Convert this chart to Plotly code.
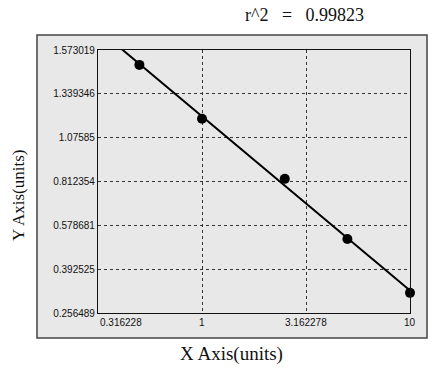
import numpy as np
import plotly.graph_objects as go

# data (y in axis-position units: tick i corresponds to y_tick_labels[i])
x_vals = [0.5, 1, 2.5, 5, 10]
y_vals = [5.66, 4.43, 3.06, 1.69, 0.46]
x_tick_vals = [0.316228, 1, 3.162278, 10]
x_tick_labels = ["0.316228", "1", "3.162278", "10"]
y_tick_vals = [0, 1, 2, 3, 4, 5, 6]
y_tick_labels = ["0.256489", "0.392525", "0.578681", "0.812354", "1.07585", "1.339346", "1.573019"]
r2_text = "r^2 &nbsp;&nbsp;= &nbsp;&nbsp;0.99823"

W, H = 432, 369
L, R, T, B = 98, 22, 50, 56
pw, ph = W - L - R, H - T - B

def px(xp):
    return (xp - L) / pw

def py(yp):
    return (H - B - yp) / ph

# fit line in log10(x)
coef = np.polyfit(np.log10(x_vals), y_vals, 1)
lx = np.logspace(np.log10(x_tick_vals[0]), np.log10(x_tick_vals[-1]), 200)
ly = np.polyval(coef, np.log10(lx))

fig = go.Figure()
fig.add_trace(go.Scatter(x=lx, y=ly, mode="lines", line=dict(color="black", width=2), hoverinfo="skip"))
fig.add_trace(go.Scatter(x=x_vals, y=y_vals, mode="markers", marker=dict(color="black", size=10), cliponaxis=False))

fig.update_layout(
    width=W, height=H, margin=dict(l=L, r=R, t=T, b=B),
    paper_bgcolor="white", plot_bgcolor="#ececec", showlegend=False,
    font=dict(family="Liberation Sans, Arial", size=10, color="#111"),
)
fig.update_xaxes(
    type="log", range=[np.log10(x_tick_vals[0]), np.log10(x_tick_vals[-1])],
    tickvals=x_tick_vals, showticklabels=False, ticks="",
    showgrid=True, gridcolor="#333", griddash="dot", gridwidth=1,
    showline=True, linecolor="#111", linewidth=1.2, mirror=True, zeroline=False,
)
fig.update_yaxes(
    range=[y_tick_vals[0], y_tick_vals[-1]], tickvals=y_tick_vals, ticktext=y_tick_labels,
    ticks="", ticklen=0, tickfont=dict(size=10, color="#111"),
    showgrid=True, gridcolor="#333", griddash="dot", gridwidth=1,
    showline=True, linecolor="#111", linewidth=1.2, mirror=True, zeroline=False,
)

# outer panel box
fig.add_shape(type="rect", xref="paper", yref="paper", layer="below",
              x0=px(37), x1=px(427), y0=py(338), y1=py(35),
              line=dict(color="#444", width=1.5), fillcolor="#e8e8e8")

# x tick labels
anchors = ["left", "center", "center", "center"]
for v, t, a in zip(x_tick_vals, x_tick_labels, anchors):
    fig.add_annotation(x=np.log10(v), xref="x", y=py(315), yref="paper", text=t,
                       showarrow=False, xanchor=a, yanchor="top",
                       font=dict(size=10, color="#111"))

# titles
serif = dict(family="Liberation Serif, Times New Roman", color="#111")
fig.add_annotation(x=px(304), y=py(15), xref="paper", yref="paper", text=r2_text,
                   xanchor="center", yanchor="middle", showarrow=False, font=dict(size=18, **serif))
fig.add_annotation(x=px(231), y=py(354), xref="paper", yref="paper", text="X Axis(units)",
                   xanchor="center", yanchor="middle", showarrow=False, font=dict(size=19, **serif))
fig.add_annotation(x=px(18), y=py(196), xref="paper", yref="paper", text="Y Axis(units)",
                   xanchor="center", yanchor="middle", textangle=-90, showarrow=False,
                   font=dict(size=17, **serif))

fig.write_html("out.html")
